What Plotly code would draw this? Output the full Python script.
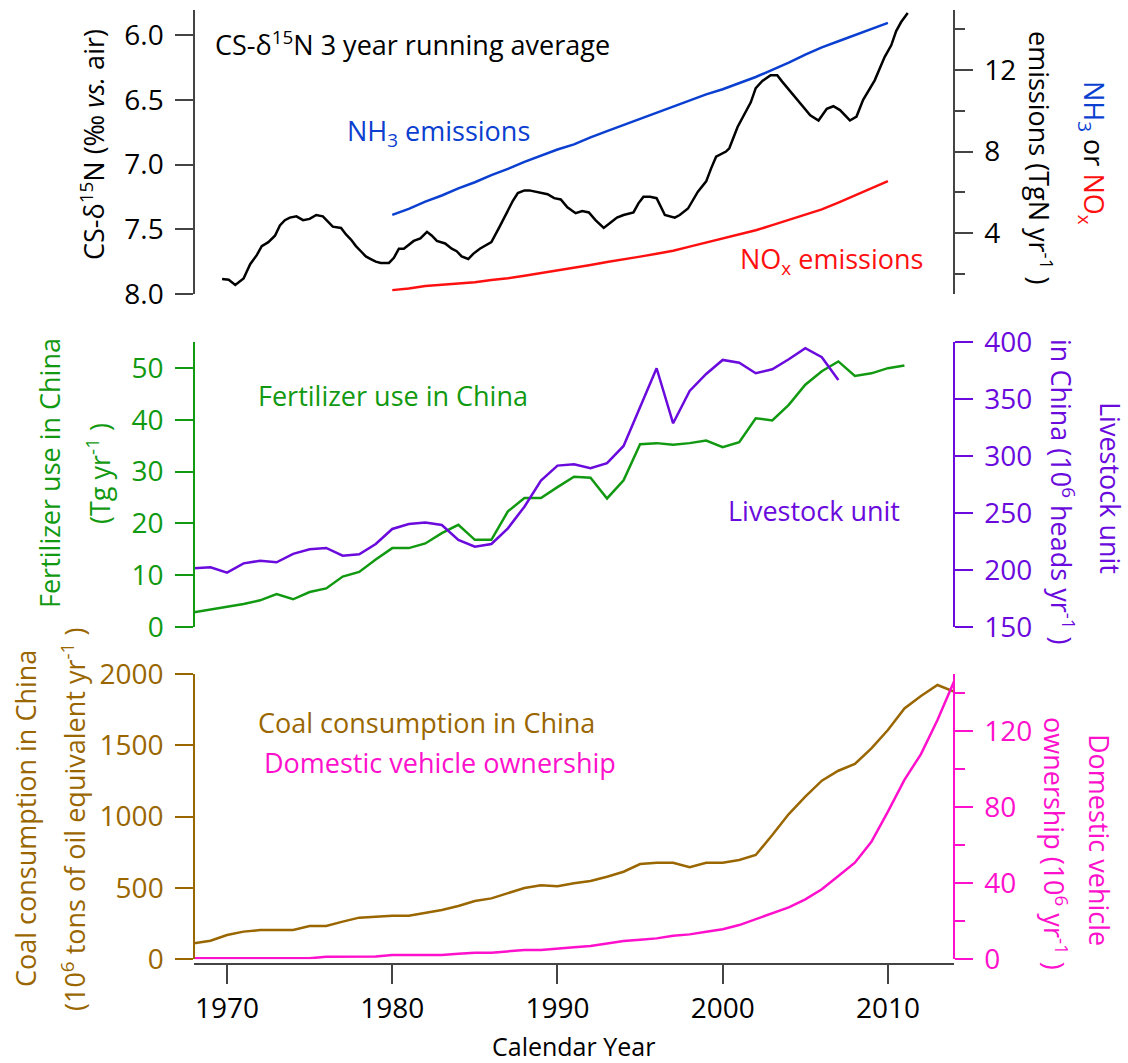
import plotly.graph_objects as go

# ---------------- data ----------------
d15n_year = [1969.7, 1970.1, 1970.5, 1971.0, 1971.4, 1971.8, 1972.1, 1972.5, 1972.9, 1973.2,
             1973.5, 1973.8, 1974.2, 1974.6, 1975.0, 1975.4, 1975.8, 1976.1, 1976.4, 1976.9,
             1977.2, 1977.5, 1977.8, 1978.1, 1978.4, 1978.7, 1979.0, 1979.3, 1979.8, 1980.1,
             1980.4, 1980.7, 1981.0, 1981.3, 1981.7, 1982.1, 1982.4, 1982.7, 1983.2, 1983.6,
             1983.9, 1984.2, 1984.6, 1984.9, 1985.3, 1985.7, 1986.0, 1986.5, 1987.0, 1987.3,
             1987.6, 1988.0, 1988.3, 1988.7, 1989.0, 1989.4, 1989.8, 1990.2, 1990.6, 1991.1,
             1991.5, 1991.9, 1992.3, 1992.8, 1993.2, 1993.6, 1994.0, 1994.6, 1994.9, 1995.2,
             1995.6, 1996.0, 1996.5, 1997.1, 1997.4, 1997.9, 1998.5, 1999.0, 1999.3, 1999.6,
             2000.2, 2000.4, 2000.9, 2001.3, 2001.7, 2002.0, 2002.4, 2002.9, 2003.3, 2003.6,
             2004.0, 2004.6, 2005.3, 2005.8, 2006.3, 2006.7, 2007.1, 2007.7, 2008.1, 2008.5,
             2009.2, 2009.8, 2010.2, 2010.5, 2010.8, 2011.2]
d15n_value = [7.885, 7.89, 7.93, 7.88, 7.77, 7.70, 7.63, 7.60, 7.55, 7.47,
              7.43, 7.41, 7.40, 7.43, 7.42, 7.39, 7.40, 7.44, 7.48, 7.49,
              7.54, 7.58, 7.63, 7.67, 7.71, 7.73, 7.75, 7.76, 7.76, 7.72,
              7.65, 7.65, 7.62, 7.59, 7.57, 7.52, 7.55, 7.59, 7.61, 7.65,
              7.67, 7.71, 7.73, 7.69, 7.65, 7.62, 7.60, 7.48, 7.35, 7.28,
              7.22, 7.20, 7.20, 7.21, 7.22, 7.23, 7.26, 7.27, 7.33, 7.376,
              7.36, 7.37, 7.43, 7.49, 7.45, 7.41, 7.39, 7.37, 7.30, 7.25,
              7.25, 7.26, 7.39, 7.41, 7.39, 7.34, 7.21, 7.13, 7.03, 6.94,
              6.90, 6.875, 6.71, 6.62, 6.52, 6.41, 6.355, 6.31, 6.31, 6.36,
              6.42, 6.51, 6.62, 6.66, 6.57, 6.55, 6.58, 6.66, 6.63, 6.50,
              6.35, 6.17, 6.08, 5.97, 5.90, 5.83]

emis_year = list(range(1980, 2011))
nh3_emis = [4.9, 5.2, 5.55, 5.85, 6.2, 6.5, 6.85, 7.15, 7.5, 7.8,
            8.1, 8.35, 8.7, 9.0, 9.3, 9.6, 9.9, 10.2, 10.5, 10.8,
            11.05, 11.35, 11.65, 12.0, 12.35, 12.75, 13.1, 13.4, 13.7, 14.0, 14.3]
nox_emis = [1.22, 1.3, 1.42, 1.47, 1.53, 1.6, 1.72, 1.8, 1.92, 2.05,
            2.18, 2.3, 2.45, 2.6, 2.72, 2.86, 3.0, 3.15, 3.35, 3.55,
            3.76, 3.95, 4.15, 4.4, 4.65, 4.9, 5.17, 5.5, 5.85, 6.2, 6.55]

fert_year = list(range(1968, 2012))
fertilizer = [2.8, 3.3, 3.8, 4.4, 5.1, 6.3, 5.3, 6.7, 7.4, 9.7,
              10.6, 13.0, 15.2, 15.2, 16.1, 18.1, 19.7, 16.8, 16.8, 22.3,
              24.9, 24.9, 27.0, 29.0, 28.8, 24.8, 28.3, 35.3, 35.5, 35.2,
              35.5, 36.0, 34.7, 35.7, 40.3, 39.9, 42.9, 46.8, 49.4, 51.3,
              48.5, 49.0, 50.0, 50.5]

live_year = list(range(1968, 2008))
livestock = [201.3, 202.2, 197.5, 205.7, 208.0, 206.6, 214.0, 218.0, 219.2, 212.4,
             213.6, 222.7, 235.9, 240.3, 241.5, 239.4, 226.2, 220.3, 222.7, 236.5,
             255.5, 278.4, 291.6, 292.8, 289.3, 293.7, 308.9, 342.9, 377.2, 328.8,
             357.2, 372.2, 384.5, 382.1, 372.8, 376.3, 385.1, 394.8, 386.9, 366.9]

coal_year = list(range(1968, 2015))
coal = [112, 130, 170, 194, 205, 205, 205, 233, 233, 264,
        292, 299, 306, 306, 327, 346, 374, 409, 427, 462,
        500, 519, 512, 533, 549, 579, 614, 668, 677, 677,
        645, 677, 677, 696, 731, 871, 1018, 1140, 1252, 1322,
        1369, 1479, 1607, 1759, 1846, 1923, 1876]

veh_year = list(range(1968, 2015))
vehicles = [0.5, 0.5, 0.5, 0.5, 0.5, 0.5, 0.6, 0.6, 1.4, 1.5,
            1.5, 1.5, 2.3, 2.3, 2.3, 2.3, 2.9, 3.5, 3.5, 4.2,
            4.9, 4.9, 5.8, 6.4, 7.0, 8.3, 9.6, 10.3, 11.0, 12.4,
            13.1, 14.5, 15.8, 18.0, 21.0, 24.2, 27.3, 31.5, 36.8, 43.8,
            50.8, 61.8, 77.6, 94.3, 107.9, 125.8, 146.0]

x_ticks = [1970, 1980, 1990, 2000, 2010]

# ---------------- styling ----------------
FONT = "Open Sans"
C_BLACK = "#000000"
C_AX = "#444444"
C_BLUE = "#0a3fd0"
C_RED = "#ff1010"
C_GREEN = "#119911"
C_PURPLE = "#6a0adc"
C_BROWN = "#996600"
C_MAGENTA = "#ff10cc"

W, H = 1128, 1063
L, R, T, B = 194, 954, 10, 964


def px(x):
    return (x - L) / (R - L)


def py(y):
    return (B - y) / (B - T)


fig = go.Figure()

fig.add_trace(go.Scatter(x=d15n_year, y=d15n_value, xaxis="x", yaxis="y",
                         mode="lines", line=dict(color=C_BLACK, width=2.5)))
fig.add_trace(go.Scatter(x=emis_year, y=nh3_emis, xaxis="x", yaxis="y2",
                         mode="lines", line=dict(color=C_BLUE, width=2.5)))
fig.add_trace(go.Scatter(x=emis_year, y=nox_emis, xaxis="x", yaxis="y2",
                         mode="lines", line=dict(color=C_RED, width=2.5)))
fig.add_trace(go.Scatter(x=fert_year, y=fertilizer, xaxis="x", yaxis="y3",
                         mode="lines", line=dict(color=C_GREEN, width=2.5)))
fig.add_trace(go.Scatter(x=live_year, y=livestock, xaxis="x", yaxis="y4",
                         mode="lines", line=dict(color=C_PURPLE, width=2.5)))
fig.add_trace(go.Scatter(x=coal_year, y=coal, xaxis="x", yaxis="y5",
                         mode="lines", line=dict(color=C_BROWN, width=2.5)))
fig.add_trace(go.Scatter(x=veh_year, y=vehicles, xaxis="x", yaxis="y6",
                         mode="lines", line=dict(color=C_MAGENTA, width=2.5)))

TICKFONT = 28


def yax(color, dom, rng, side, dtick, tick0=0, minor=None, fmt=None, overlay=None, tcolor=None):
    d = dict(domain=dom, range=rng, side=side, showgrid=False, zeroline=False,
             showline=True, linecolor=color, linewidth=1.5,
             ticks="outside", ticklen=18, tickwidth=1.5, tickcolor=color,
             tickfont=dict(family=FONT, size=TICKFONT, color=tcolor or color),
             dtick=dtick, tick0=tick0, anchor="free", automargin=False,
             position=0 if side == "left" else 1, ticklabelstandoff=6)
    if fmt:
        d["tickformat"] = fmt
    if overlay:
        d["overlaying"] = overlay
    if minor:
        d["minor"] = minor
    return d


top_dom = [py(294), 1.0]
mid_dom = [py(626.7), py(342.3)]
bot_dom = [py(959.3), py(674)]

fig.update_layout(
    width=W, height=H,
    margin=dict(l=L, r=W - R, t=T, b=H - B, autoexpand=False),
    paper_bgcolor="white", plot_bgcolor="white",
    showlegend=False,
    font=dict(family=FONT, size=TICKFONT, color=C_BLACK),
    xaxis=dict(range=[1968, 2014], anchor="free", position=0, automargin=False,
               showgrid=False, zeroline=False, showline=True, linecolor=C_AX, linewidth=2,
               ticks="outside", ticklen=19, tickwidth=1.5, tickcolor=C_AX,
               tickvals=x_ticks, tickfont=dict(family=FONT, size=TICKFONT, color=C_BLACK),
               ticklabelstandoff=0),
    yaxis=yax(C_AX, top_dom, [8.0, 5.807], "left", 0.5, 6.0, fmt=".1f", tcolor=C_BLACK),
    yaxis2=yax(C_AX, top_dom, [1.03, 14.93], "right", 4, 0, overlay="y", tcolor=C_BLACK,
               minor=dict(dtick=2, tick0=0, ticklen=10, tickwidth=1.5, tickcolor=C_AX, ticks="outside")),
    yaxis3=yax(C_GREEN, mid_dom, [0, 55], "left", 10, 0),
    yaxis4=yax(C_PURPLE, mid_dom, [150, 400], "right", 50, 150, overlay="y3"),
    yaxis5=yax(C_BROWN, bot_dom, [0, 2000], "left", 500, 0),
    yaxis6=yax(C_MAGENTA, bot_dom, [0, 150], "right", 40, 0, overlay="y5",
               minor=dict(dtick=20, tick0=0, ticklen=10, tickwidth=1.5, tickcolor=C_MAGENTA, ticks="outside")),
)

ANN = 27
annotations = [
    # in-plot labels
    dict(text="CS-δ<sup>15</sup>N 3 year running average", x=px(213), y=py(44), xanchor="left", color=C_BLACK),
    dict(text="NH<sub>3</sub> emissions", x=px(345), y=py(133), xanchor="left", color=C_BLUE),
    dict(text="NO<sub>x</sub> emissions", x=px(925), y=py(260), xanchor="right", color=C_RED),
    dict(text="Fertilizer use in China", x=px(256), y=py(395), xanchor="left", color=C_GREEN),
    dict(text="Livestock unit", x=px(902), y=py(510), xanchor="right", color=C_PURPLE),
    dict(text="Coal consumption in China", x=px(256), y=py(722), xanchor="left", color=C_BROWN),
    dict(text="Domestic vehicle ownership", x=px(262), y=py(762), xanchor="left", color=C_MAGENTA),
    # left axis titles
    dict(text="CS-δ<sup>15</sup>N (‰ <i>vs.</i> air)", x=px(93), y=py(145), angle=-90, color=C_BLACK),
    dict(text="Fertilizer use in China", x=px(50), y=py(473), angle=-90, color=C_GREEN),
    dict(text="(Tg yr<sup>-1</sup> )", x=px(98), y=py(474), angle=-90, color=C_GREEN),
    dict(text="Coal consumption in China", x=px(25), y=py(819), angle=-90, color=C_BROWN),
    dict(text="(10<sup>6</sup> tons of oil equivalent yr<sup>-1</sup> )", x=px(73), y=py(820), angle=-90, color=C_BROWN),
    # right axis titles
    dict(text="emissions (TgN yr<sup>-1</sup> )", x=px(1040), y=py(157), angle=90, color=C_BLACK),
    dict(text="<span style='color:%s'>NH<sub>3</sub></span> or <span style='color:%s'>NO<sub>x</sub></span>" % (C_BLUE, C_RED),
         x=px(1093), y=py(153), angle=90, color=C_BLACK),
    dict(text="in China (10<sup>6</sup> heads yr<sup>-1</sup> )", x=px(1063), y=py(492), angle=90, color=C_PURPLE),
    dict(text="Livestock unit", x=px(1110), y=py(488), angle=90, color=C_PURPLE),
    dict(text="ownership (10<sup>6</sup> yr<sup>-1</sup> )", x=px(1056), y=py(843), angle=90, color=C_MAGENTA),
    dict(text="Domestic vehicle", x=px(1100), y=py(840), angle=90, color=C_MAGENTA),
    # x title
    dict(text="Calendar Year", x=px(573), y=py(1046), color=C_BLACK, size=25),
]

for a in annotations:
    fig.add_annotation(
        text=a["text"], x=a["x"], y=a["y"], xref="paper", yref="paper",
        xanchor=a.get("xanchor", "center"), yanchor="middle",
        textangle=a.get("angle", 0), showarrow=False,
        font=dict(family=FONT, size=a.get("size", ANN), color=a["color"]),
    )

fig.write_html("out.html", config={"displayModeBar": False},
               post_script="document.body.style.margin='0px';document.body.style.overflow='hidden';")
